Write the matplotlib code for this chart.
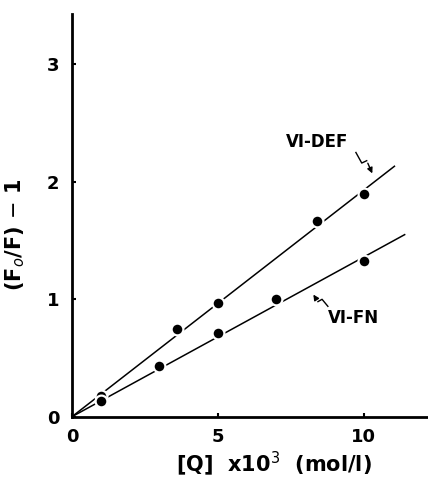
import numpy as np
import matplotlib.pyplot as plt

# Stern-Volmer data
q_def = [1.0, 3.6, 5.0, 8.4, 10.0]
f_def = [0.18, 0.75, 0.97, 1.67, 1.90]
q_fn = [1.0, 3.0, 5.0, 7.0, 10.0]
f_fn = [0.13, 0.43, 0.71, 1.00, 1.33]

# fitted lines (slope, end of drawn line)
slope_def, end_def = 0.193, 11.05
slope_fn, end_fn = 0.136, 11.4

xticks = [0, 5, 10]
yticks = [0, 1, 2, 3]

fig = plt.figure(figsize=(4.28, 4.79), dpi=100)
ax = fig.add_axes([0.168, 0.130, 0.832, 0.841])

xs = np.array([0, end_def])
ax.plot(xs, slope_def * xs, color='black', lw=1.1, zorder=2)
xs = np.array([0, end_fn])
ax.plot(xs, slope_fn * xs, color='black', lw=1.1, zorder=2)

ax.plot(q_def, f_def, 'o', color='black', ms=8.5, mec='white', mew=1.6, zorder=3)
ax.plot(q_fn, f_fn, 'o', color='black', ms=8.5, mec='white', mew=1.6, zorder=3)

ax.set_xlim(0, 12.2)
ax.set_ylim(0, 3.43)

for s in ['top', 'right']:
    ax.spines[s].set_visible(False)
for s in ['left', 'bottom']:
    ax.spines[s].set_linewidth(2)

ax.set_xticks(xticks)
ax.set_yticks(yticks)
ax.tick_params(direction='in', length=3, width=1.5)
ax.tick_params(axis='x', pad=8)
ax.tick_params(axis='y', pad=9)
for lab in ax.get_xticklabels() + ax.get_yticklabels():
    lab.set_fontsize(13)
    lab.set_fontweight('bold')

ax.set_xlabel('[Q]  x10$^3$  (mol/l)', fontsize=15, fontweight='bold')
ax.xaxis.set_label_coords(0.567, -0.082)
ax.set_ylabel('(F$_o$/F) $-$ 1', fontsize=15, fontweight='bold')
ax.yaxis.set_label_coords(-0.125, 0.45)

# labels with squiggle arrows
ax.text(8.4, 2.34, 'VI-DEF', fontsize=12, fontweight='bold', ha='center', va='center')
zx = [9.73, 9.93, 10.10]
zy = [2.25, 2.16, 2.18]
ax.plot(zx, zy, color='black', lw=1)
ax.annotate('', xy=(10.33, 2.05), xytext=(zx[2], zy[2]),
            arrowprops=dict(arrowstyle='-|>', color='black', lw=1, mutation_scale=8))

ax.text(9.66, 0.84, 'VI-FN', fontsize=12, fontweight='bold', ha='center', va='center')
zx = [8.77, 8.57, 8.43]
zy = [0.94, 1.00, 0.98]
ax.plot(zx, zy, color='black', lw=1)
ax.annotate('', xy=(8.22, 1.06), xytext=(zx[2], zy[2]),
            arrowprops=dict(arrowstyle='-|>', color='black', lw=1, mutation_scale=8))

plt.savefig('out.png', dpi=100)
